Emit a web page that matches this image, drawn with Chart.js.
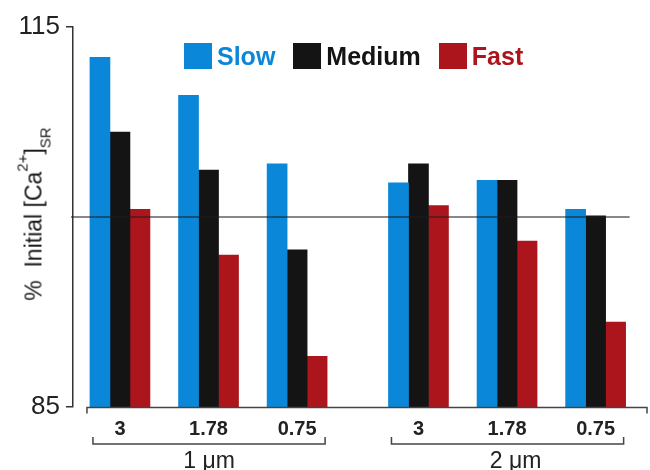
<!DOCTYPE html>
<html>
<head>
<meta charset="utf-8">
<script src="https://cdn.jsdelivr.net/npm/chart.js@4.4.1/dist/chart.umd.min.js"></script>
<style>
body{margin:0;background:#fff;}
#wrap{position:relative;width:650px;height:470px;font-family:"Liberation Sans",Arial,sans-serif;color:#222;}
#ytitle{position:absolute;left:34px;top:214px;transform:translate(-50%,-50%) rotate(-90deg);white-space:nowrap;font-size:23px;line-height:23px;color:#1a1a1a;}
#ytitle sup,#ytitle sub{font-size:15px;line-height:0;position:relative;vertical-align:baseline;}
#ytitle sup{top:-14px;}
#ytitle sub{top:9px;}
#legend{position:absolute;left:184px;top:43px;display:flex;font-weight:bold;font-size:25px;line-height:26px;}
#legend .item{display:flex;align-items:center;margin-right:18px;}
#legend .box{width:28px;height:26px;margin-right:5px;}
</style>
</head>
<body>
<div id="wrap">
	<canvas id="chart" width="650" height="470"></canvas>
	<div id="ytitle">%&nbsp; Initial [Ca<sup>2+</sup>]<sub>SR</sub></div>
	<div id="legend"></div>
</div>
<script>
'use strict';

// values (% of initial SR calcium)
const sizes = ['3', '1.78', '0.75', '3', '1.78', '0.75'];
const groupX = [1, 2, 3, 4.37, 5.37, 6.37];
const setOf = [0, 0, 0, 1, 1, 1];
const setLabels = ['1 μm', '2 μm'];
const seriesNames = ['Slow', 'Medium', 'Fast'];
const slow = [112.6, 109.6, 104.2, 102.7, 102.9, 100.6];
const medium = [106.7, 103.7, 97.4, 104.2, 102.9, 100.1];
const fast = [100.6, 97.0, 89.0, 100.9, 98.1, 91.7];
const yTicks = [85, 115];
const refLine = 100;

const colors = ['#0a87d9', '#141414', '#ac151c'];
const seriesData = [slow, medium, fast];

const datasets = seriesNames.map((name, s) => ({
	label: name,
	data: groupX.map((x, i) => ({x: x, y: seriesData[s][i]})),
	backgroundColor: colors[s],
	borderWidth: 0,
	barThickness: 20
}));

// horizontal reference line at 100 %
const refLinePlugin = {
	id: 'refLine',
	afterDatasetsDraw(chart){
		const ctx = chart.ctx, y = chart.scales.y, x = chart.scales.x;
		const py = y.getPixelForValue(refLine);
		ctx.save();
		ctx.strokeStyle = 'rgba(30,30,30,0.7)';
		ctx.lineWidth = 1.5;
		ctx.beginPath();
		ctx.moveTo(chart.chartArea.left - 2, py);
		ctx.lineTo(x.getPixelForValue(groupX[groupX.length - 1]) + 34, py);
		ctx.stroke();
		ctx.restore();
	}
};

// x axis bracket and the 1 um / 2 um brackets underneath
const bracketPlugin = {
	id: 'brackets',
	afterDraw(chart){
		const ctx = chart.ctx, x = chart.scales.x;
		const area = chart.chartArea;
		const base = area.bottom + 0.5;
		ctx.save();
		ctx.strokeStyle = '#444';
		ctx.lineWidth = 1.5;
		ctx.beginPath();
		ctx.moveTo(x.getPixelForValue(groupX[0]) - 33, base + 6);
		ctx.lineTo(x.getPixelForValue(groupX[0]) - 33, base);
		ctx.lineTo(area.right, base);
		ctx.lineTo(area.right, base + 6);
		ctx.stroke();

		ctx.fillStyle = '#222';
		ctx.font = '23px "Liberation Sans", Arial, sans-serif';
		ctx.textAlign = 'center';
		ctx.textBaseline = 'alphabetic';
		setLabels.forEach((lab, k) => {
			const idx = [];
			setOf.forEach((s, i) => { if(s == k) idx.push(i); });
			const x0 = x.getPixelForValue(groupX[idx[0]]) - 27;
			const x1 = x.getPixelForValue(groupX[idx[idx.length - 1]]) + 28;
			const by = area.bottom + 37;
			ctx.beginPath();
			ctx.moveTo(x0, by - 7);
			ctx.lineTo(x0, by);
			ctx.lineTo(x1, by);
			ctx.lineTo(x1, by - 7);
			ctx.stroke();
			ctx.fillText(lab, (x0 + x1) / 2 + (k == 1 ? 8 : 0), area.bottom + 61);
		});
		ctx.restore();
	}
};

// html legend with coloured names
const htmlLegendPlugin = {
	id: 'htmlLegend',
	afterInit(chart){
		const box = document.getElementById('legend');
		box.innerHTML = '';
		chart.data.datasets.forEach((ds) => {
			box.innerHTML += `<div class="item"><div class="box" style="background:${ds.backgroundColor}"></div><span style="color:${ds.backgroundColor}">${ds.label}</span></div>`;
		});
	}
};

const chart = new Chart(document.getElementById('chart').getContext('2d'), {
	type: 'bar',
	data: {datasets: datasets},
	options: {
		responsive: false,
		animation: false,
		layout: {padding: {top: 27, right: 3, left: 0, bottom: 0}},
		plugins: {
			legend: {display: false},
			tooltip: {enabled: false}
		},
		scales: {
			x: {
				type: 'linear',
				min: 0.47,
				max: 6.95,
				offset: false,
				grid: {display: false, offset: false},
				border: {display: false},
				afterBuildTicks(scale){ scale.ticks = groupX.map(v => ({value: v})); },
				afterFit(scale){ scale.height = 63; },
				ticks: {
					autoSkip: false,
					maxRotation: 0,
					padding: 2,
					color: '#222',
					font: {family: '"Liberation Sans", Arial, sans-serif', size: 20, weight: 'bold'},
					callback: (v) => sizes[groupX.indexOf(v)]
				}
			},
			y: {
				min: 85,
				max: 115,
				afterBuildTicks(scale){ scale.ticks = yTicks.map(v => ({value: v})); },
				afterFit(scale){ scale.width = 73; },
				grid: {drawOnChartArea: false, drawTicks: true, tickLength: 7, color: '#333', lineWidth: 1.5},
				border: {color: '#333', width: 1.5},
				ticks: {
					padding: 6,
					color: '#222',
					font: {family: '"Liberation Sans", Arial, sans-serif', size: 26}
				}
			}
		}
	},
	plugins: [refLinePlugin, bracketPlugin, htmlLegendPlugin]
});
</script>
</body>
</html>
